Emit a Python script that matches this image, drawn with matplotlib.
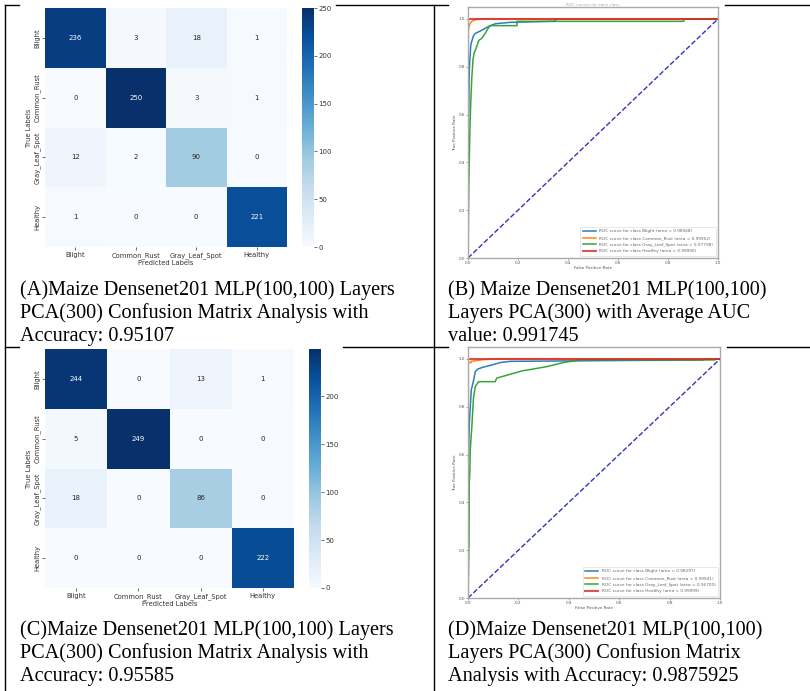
import matplotlib
matplotlib.use("Agg")
import matplotlib.pyplot as plt
import numpy as np
import seaborn as sns
from matplotlib.lines import Line2D

W, H = 810, 691
fig = plt.figure(figsize=(W / 100, H / 100), dpi=100)
fig.patch.set_facecolor("white")

# ---------------- data ----------------
classes = ["Blight", "Common_Rust", "Gray_Leaf_Spot", "Healthy"]

cm_A = [[236, 3, 18, 1],
        [0, 250, 3, 1],
        [12, 2, 90, 0],
        [1, 0, 0, 221]]
cm_C = [[244, 0, 13, 1],
        [5, 249, 0, 0],
        [18, 0, 86, 0],
        [0, 0, 0, 222]]

# ROC panel B
b_blight_fpr = [0, 0.0, 0.003, 0.005, 0.008, 0.011, 0.016, 0.022, 0.030, 0.040, 0.050, 0.064, 0.076, 0.090, 0.110, 0.170, 0.330, 0.350, 0.350, 1.0]
b_blight_tpr = [0, 0.50, 0.62, 0.78, 0.84, 0.89, 0.91, 0.93, 0.94, 0.945, 0.950, 0.958, 0.965, 0.972, 0.980, 0.986, 0.990, 0.990, 1.0, 1.0]
b_rust_fpr = [0, 0.0, 0.003, 0.008, 0.015, 0.025, 0.040, 1.0]
b_rust_tpr = [0, 0.94, 0.965, 0.980, 0.990, 0.995, 1.0, 1.0]
b_gray_fpr = [0, 0.003, 0.005, 0.008, 0.011, 0.015, 0.020, 0.025, 0.030, 0.043, 0.056, 0.069, 0.083, 0.089, 0.196, 0.196, 0.863, 0.863, 1.0]
b_gray_tpr = [0, 0.30, 0.41, 0.55, 0.65, 0.75, 0.83, 0.86, 0.87, 0.91, 0.92, 0.94, 0.965, 0.972, 0.972, 0.990, 0.990, 1.0, 1.0]
b_healthy_fpr = [0, 0.0, 1.0]
b_healthy_tpr = [0, 1.0, 1.0]
b_auc = [0.98948, 0.99952, 0.97798, 0.99990]

# ROC panel D
d_blight_fpr = [0, 0.0, 0.0026, 0.0053, 0.0092, 0.013, 0.022, 0.029, 0.038, 0.055, 0.095, 0.128, 0.168, 0.934, 0.940, 1.0]
d_blight_tpr = [0, 0.50, 0.62, 0.73, 0.80, 0.87, 0.91, 0.947, 0.957, 0.964, 0.975, 0.985, 0.990, 0.996, 1.0, 1.0]
d_rust_fpr = [0, 0.0, 0.013, 0.013, 0.030, 0.060, 0.100, 1.0]
d_rust_tpr = [0, 0.985, 0.985, 0.990, 0.993, 0.997, 1.0, 1.0]
d_gray_fpr = [0, 0.004, 0.005, 0.007, 0.009, 0.016, 0.022, 0.029, 0.042, 0.108, 0.114, 0.148, 0.181, 0.214, 0.254, 0.313, 0.379, 0.445, 0.980, 0.980, 1.0]
d_gray_tpr = [0, 0.24, 0.48, 0.52, 0.62, 0.73, 0.84, 0.885, 0.905, 0.905, 0.920, 0.930, 0.940, 0.950, 0.957, 0.968, 0.985, 0.996, 0.996, 1.0, 1.0]
d_healthy_fpr = [0, 0.0, 1.0]
d_healthy_tpr = [0, 1.0, 1.0]
d_auc = [0.98297, 0.99941, 0.96700, 0.99999]

captions = {
    "A": ["(A)Maize Densenet201 MLP(100,100) Layers",
          "PCA(300) Confusion Matrix Analysis with",
          "Accuracy: 0.95107"],
    "B": ["(B) Maize Densenet201 MLP(100,100)",
          "Layers PCA(300) with Average AUC",
          "value: 0.991745"],
    "C": ["(C)Maize Densenet201 MLP(100,100) Layers",
          "PCA(300) Confusion Matrix Analysis with",
          "Accuracy: 0.95585"],
    "D": ["(D)Maize Densenet201 MLP(100,100)",
          "Layers PCA(300) Confusion Matrix",
          "Analysis with Accuracy: 0.9875925"],
}


def px_axes(x0, y0, x1, y1):
    return fig.add_axes([x0 / W, 1 - y1 / H, (x1 - x0) / W, (y1 - y0) / H])


def fline(x0, y0, x1, y1):
    fig.add_artist(Line2D([x0 / W, x1 / W], [1 - y0 / H, 1 - y1 / H],
                          color="black", lw=1.0, zorder=0))


# ---------------- table lines ----------------
fline(5, 5, 5, 691)
fline(434, 5, 434, 691)
for (a, b) in [(5, 19), (336, 448), (725, 810)]:
    fline(a, 5, b, 5)
for (a, b) in [(5, 19), (343, 448), (727, 810)]:
    fline(a, 347, b, 347)

TXT = "#333333"


def heatmap(cm, box, cbox, ticks):
    ax = px_axes(*box)
    cax = px_axes(*cbox)
    data = np.array(cm)
    sns.heatmap(data, annot=True, fmt="d", cmap="Blues", ax=ax, cbar_ax=cax,
                annot_kws={"fontsize": 5}, xticklabels=classes, yticklabels=classes)
    ax.set_xlabel("Predicted Labels", fontsize=4.9, color=TXT, labelpad=1)
    ax.set_ylabel("True Labels", fontsize=4.9, color=TXT, labelpad=1)
    ax.tick_params(axis="both", labelsize=4.9, length=2, width=0.5, pad=1.5,
                   colors=TXT)
    for lab in ax.get_xticklabels():
        lab.set_rotation(0)
        lab.set_ha("center")
    for lab in ax.get_yticklabels():
        lab.set_rotation(90)
        lab.set_va("center")
    cax.set_yticks(ticks)
    cax.tick_params(labelsize=5, length=2, width=0.5, pad=1, colors=TXT)
    return ax


heatmap(cm_A, (45, 8, 287, 247), (302, 8, 314, 247), [0, 50, 100, 150, 200, 250])
heatmap(cm_C, (45, 349, 294, 588), (309, 349, 321, 588), [0, 50, 100, 150, 200])

colors = ["#1f77b4", "#ff7f0e", "#2ca02c", "#d62728"]


def roc(box, curves, aucs, title):
    ax = px_axes(*box)
    for (f, t), c, name, a in zip(curves, colors, classes, aucs):
        lw = 1.5 if name == "Healthy" else 1.1
        ax.plot(f, t, color=c, lw=lw, alpha=0.8 if name == "Healthy" else 0.95,
                label=f"ROC curve for class {name} (area = {a:.5f})")
    ax.plot([0, 1], [0, 1], color="#3333bb", lw=1.0, ls="--")
    ax.set_xlim(0, 1)
    ax.set_ylim(0, 1.05)
    ax.set_xticks([0, 0.2, 0.4, 0.6, 0.8, 1.0])
    ax.set_yticks([0, 0.2, 0.4, 0.6, 0.8, 1.0])
    ax.tick_params(labelsize=3, length=1.2, width=0.4, pad=1, colors="#555555")
    ax.set_xlabel("False Positive Rate", fontsize=3, color="#555555", labelpad=1)
    ax.set_ylabel("True Positive Rate", fontsize=3, color="#555555", labelpad=1)
    ax.set_title(title, fontsize=3, color="#aaaaaa", pad=1)
    for s in ax.spines.values():
        s.set_color("#aaaaaa")
        s.set_linewidth(1.0)
    leg = ax.legend(loc="lower right", fontsize=3.1, handlelength=3,
                    borderpad=0.6, labelspacing=0.6, frameon=True)
    leg.get_frame().set_linewidth(0.4)
    for t in leg.get_texts():
        t.set_color("#666666")
    return ax


roc((468, 7, 718, 258),
    [(b_blight_fpr, b_blight_tpr), (b_rust_fpr, b_rust_tpr),
     (b_gray_fpr, b_gray_tpr), (b_healthy_fpr, b_healthy_tpr)],
    b_auc, "ROC curves for each class")
roc((468, 347, 720, 598),
    [(d_blight_fpr, d_blight_tpr), (d_rust_fpr, d_rust_tpr),
     (d_gray_fpr, d_gray_tpr), (d_healthy_fpr, d_healthy_tpr)],
    d_auc, "")

# ---------------- captions ----------------
cap_pos = {"A": (20, 295), "B": (448, 295), "C": (20, 635), "D": (448, 635)}
for key, lines in captions.items():
    x, y = cap_pos[key]
    for i, ln in enumerate(lines):
        fig.text(x / W, 1 - (y + 23 * i) / H, ln, fontsize=14.6,
                 family="Liberation Serif", va="baseline", ha="left")

fig.savefig("out.png", dpi=100)
